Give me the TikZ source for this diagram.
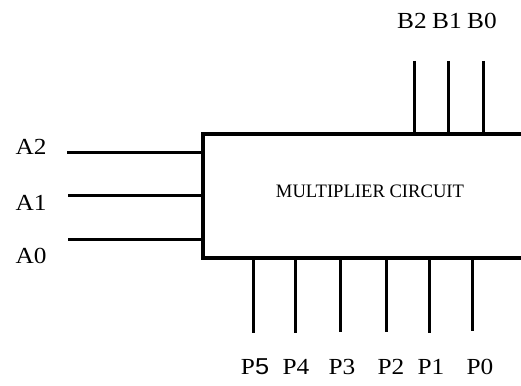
\documentclass[tikz,border=0pt]{standalone}
\usepackage{fontspec}
\setmainfont{Liberation Serif}
\begin{document}
\begin{tikzpicture}[x=1pt,y=-1pt,
  wire/.style={line width=3pt},
  blk/.style={draw,line width=4pt,minimum width=337pt,minimum height=124pt,inner sep=0pt},
  lbl/.style={font=\fontsize{23}{25}\selectfont,inner sep=0pt,xscale=1.1},
  ttl/.style={font=\fontsize{19}{21}\selectfont,inner sep=0pt,xscale=0.98}]
\useasboundingbox (0,0) rectangle (521,385);
\clip (0,0) rectangle (521,385);
\fill[white] (0,0) rectangle (521,385);
\node[blk] (box) at (371.5,196) {};
\node[ttl] (title) at (370,191) {MULTIPLIER CIRCUIT};
% A inputs
\coordinate (a2) at (67,152);
\coordinate (a1) at (68,195);
\coordinate (a0) at (68,239);
\foreach \n in {a2,a1,a0} \draw[wire] (\n) -- (\n -| box.west);
\node[lbl] (la2) at (31,147) {A2};
\node[lbl] (la1) at (31,202.5) {A1};
\node[lbl] (la0) at (31,256) {A0};
% B inputs
\coordinate (b2) at (414,61);
\coordinate (b1) at (448,61);
\coordinate (b0) at (483,61);
\foreach \n in {b2,b1,b0} \draw[wire] (\n) -- (\n |- box.north);
\node[lbl] (lb2) at (412,21) {B2};
\node[lbl] (lb1) at (447,21) {B1};
\node[lbl] (lb0) at (482,21) {B0};
% P outputs
\coordinate (p5) at (253,333);
\coordinate (p4) at (295,333);
\coordinate (p3) at (340,332);
\coordinate (p2) at (386,332);
\coordinate (p1) at (429,333);
\coordinate (p0) at (472,331);
\foreach \n in {p5,p4,p3,p2,p1,p0} \draw[wire] (\n |- box.south) -- (\n);
\node[lbl] (lp5) at (255,367) {P\fontspec{Liberation Sans}5};
\node[lbl] (lp4) at (296,367) {P4};
\node[lbl] (lp3) at (342,367) {P3};
\node[lbl] (lp2) at (391,367) {P2};
\node[lbl] (lp1) at (431,367) {P1};
\node[lbl] (lp0) at (480,367) {P0};
\end{tikzpicture}
\end{document}
